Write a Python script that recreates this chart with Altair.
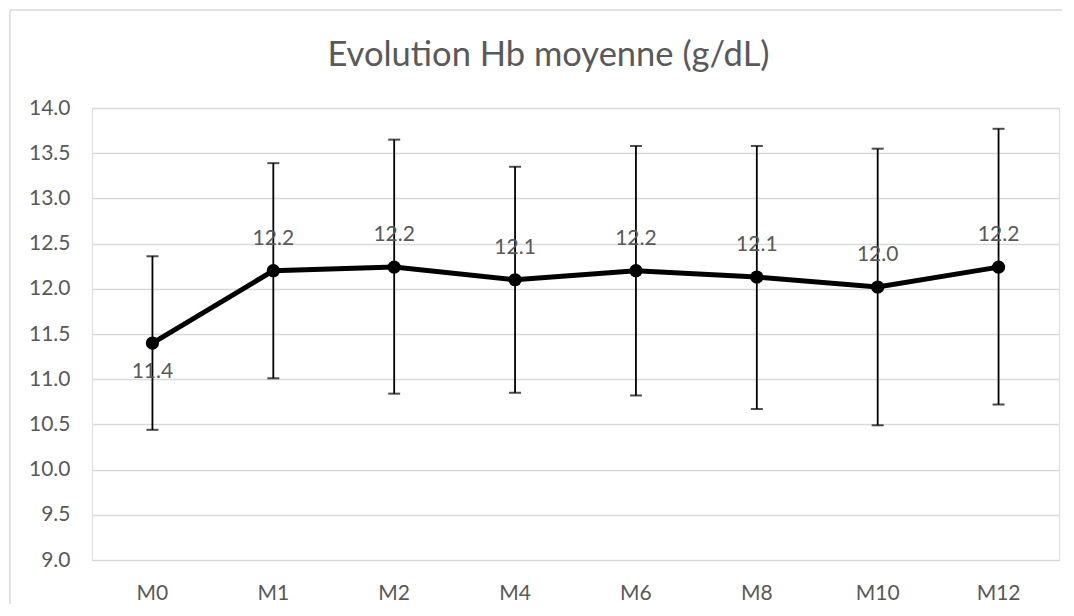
import altair as alt
import pandas as pd

# Data
months = ["M0", "M1", "M2", "M4", "M6", "M8", "M10", "M12"]
mean_hb = [11.40, 12.20, 12.24, 12.10, 12.20, 12.13, 12.02, 12.24]
upper_hb = [12.36, 13.39, 13.65, 13.35, 13.58, 13.58, 13.55, 13.77]
lower_hb = [10.44, 11.01, 10.84, 10.85, 10.82, 10.67, 10.49, 10.72]
y_ticks = [9.0, 9.5, 10.0, 10.5, 11.0, 11.5, 12.0, 12.5, 13.0, 13.5, 14.0]
title_text = "Evolution Hb moyenne (g/dL)"

df = pd.DataFrame({"month": months, "mean": mean_hb, "upper": upper_hb, "lower": lower_hb})

FONT = "Lato"
GREY = "#595959"
FS = 21

x = alt.X("month:N", sort=months, title=None,
          scale=alt.Scale(paddingInner=0, paddingOuter=0),
          axis=alt.Axis(labelAngle=0, labelFontSize=FS, labelFont=FONT, labelColor=GREY,
                        ticks=False, domain=False, labelPadding=22, grid=False))
y_scale = alt.Scale(domain=[9, 14], nice=False, zero=False)
y = alt.Y("mean:Q", scale=y_scale, title=None,
          axis=alt.Axis(values=y_ticks, format=".1f", labelFontSize=FS, labelFont=FONT,
                        labelColor=GREY, ticks=False, domain=False, labelPadding=22,
                        grid=True, gridColor="#d9d9d9", gridWidth=1.3))

base = alt.Chart(df)
frame_df = pd.DataFrame({"k": [0]})

border_top = alt.Chart(frame_df).mark_rule(
    color="#d9d9d9", strokeWidth=1.5, clip=False
).encode(x=alt.value(-82), x2=alt.value(975), y=alt.value(-98), y2=alt.value(-98))
border_left = alt.Chart(frame_df).mark_rule(
    color="#d9d9d9", strokeWidth=1.5, clip=False
).encode(x=alt.value(-82), y=alt.value(-98), y2=alt.value(496))

rules = base.mark_rule(color="black", strokeWidth=1.8).encode(
    x=x, y=alt.Y("lower:Q", scale=y_scale), y2="upper:Q")
caps_hi = base.mark_tick(color="black", orient="horizontal", size=12, thickness=2).encode(
    x=x, y=alt.Y("upper:Q", scale=y_scale))
caps_lo = base.mark_tick(color="black", orient="horizontal", size=12, thickness=2).encode(
    x=x, y=alt.Y("lower:Q", scale=y_scale))
line = base.mark_line(color="black", strokeWidth=5).encode(x=x, y=y)
points = base.mark_point(filled=True, color="black", size=175, opacity=1).encode(
    x=x, y=alt.Y("mean:Q", scale=y_scale))
labels_above = base.transform_filter(alt.datum.month != "M0").mark_text(
    dy=-32, fontSize=FS, font=FONT, color=GREY).encode(
    x=x, y=alt.Y("mean:Q", scale=y_scale), text=alt.Text("mean:Q", format=".1f"))
labels_below = base.transform_filter(alt.datum.month == "M0").mark_text(
    dy=29, fontSize=FS, font=FONT, color=GREY).encode(
    x=x, y=alt.Y("mean:Q", scale=y_scale), text=alt.Text("mean:Q", format=".1f"))

chart = alt.layer(border_top, border_left, rules, caps_hi, caps_lo, line, points,
                  labels_above, labels_below).properties(
    width=967, height=452,
    autosize=alt.AutoSizeParams(type="none"),
    padding={"left": 84, "top": 100, "right": 3, "bottom": 44},
    title=alt.TitleParams(title_text, fontSize=34.5, font=FONT, color=GREY, fontWeight="normal",
                          anchor="middle", dx=-27, offset=0, dy=64),
).configure_view(stroke="transparent", strokeWidth=0).configure(background="white")

chart.save("out.html", embed_options={"renderer": "svg", "actions": False})
